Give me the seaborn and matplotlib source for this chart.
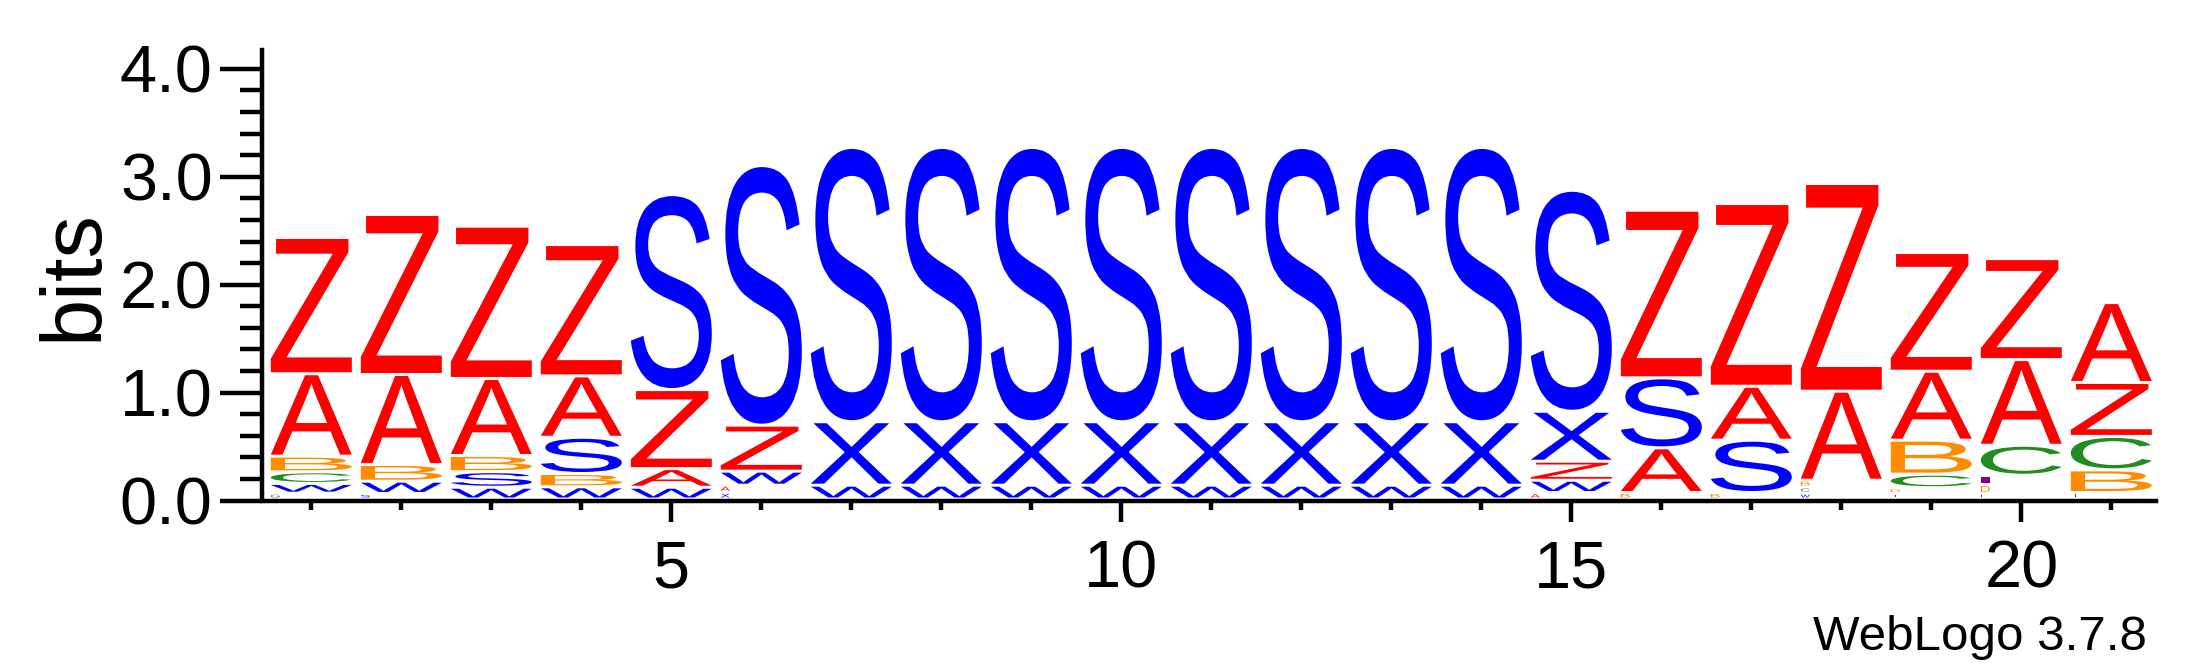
import matplotlib
matplotlib.use("Agg")
import matplotlib.pyplot as plt
from matplotlib.font_manager import FontProperties
from matplotlib.textpath import TextPath
from matplotlib.patches import PathPatch
from matplotlib.transforms import Affine2D
from matplotlib.ticker import MultipleLocator, FixedLocator, FormatStrFormatter
import pandas as pd
import seaborn as sns


# stack heights (bits) per letter, positions 1..21
positions = list(range(1, 22))
A = [0.764, 0.834, 0.714, 0.569, 0.173, 0.066, 0, 0, 0, 0, 0, 0, 0, 0, 0.060, 0.414, 0.500, 0.825, 0.639, 0.794, 0.740]
B = [0.145, 0.155, 0.150, 0.123, 0, 0, 0, 0, 0, 0, 0, 0, 0, 0, 0, 0.060, 0.060, 0.062, 0.315, 0, 0.210]
C = [0.108, 0, 0, 0, 0, 0, 0, 0, 0, 0, 0, 0, 0, 0, 0, 0, 0, 0.058, 0.126, 0.278, 0.310]
D = [0, 0, 0, 0, 0, 0, 0, 0, 0, 0, 0, 0, 0, 0, 0, 0, 0, 0, 0.053, 0.083, 0]
E = [0, 0, 0, 0, 0, 0, 0, 0, 0, 0, 0, 0, 0, 0, 0, 0, 0, 0, 0, 0.051, 0]
G = [0.054, 0, 0, 0, 0, 0, 0, 0, 0, 0, 0, 0, 0, 0, 0, 0, 0, 0, 0, 0, 0]
I = [0, 0, 0, 0, 0, 0, 0, 0, 0, 0, 0, 0, 0, 0, 0, 0, 0, 0, 0, 0.086, 0]
S = [0, 0.051, 0.144, 0.336, 1.807, 2.406, 2.542, 2.542, 2.542, 2.542, 2.542, 2.542, 2.542, 2.542, 2.048, 0.649, 0.485, 0, 0, 0, 0]
T = [0, 0, 0, 0, 0, 0, 0, 0, 0, 0, 0, 0, 0, 0, 0, 0, 0, 0, 0.051, 0, 0.060]
W = [0.090, 0.114, 0.109, 0.113, 0.109, 0.130, 0.128, 0.128, 0.128, 0.128, 0.128, 0.128, 0.128, 0.128, 0.114, 0, 0, 0.054, 0, 0, 0]
X = [0, 0, 0, 0, 0, 0.062, 0.588, 0.588, 0.588, 0.588, 0.588, 0.588, 0.588, 0.588, 0.463, 0, 0, 0, 0, 0, 0]
Z = [1.263, 1.483, 1.411, 1.217, 0.732, 0.426, 0, 0, 0, 0, 0, 0, 0, 0, 0.176, 1.553, 1.693, 1.925, 1.100, 0.936, 0.500]

x_major = [5, 10, 15, 20]
y_max = 4.175

colors = {
    "A": "#ff0000", "Z": "#ff0000", "E": "#ff0000",
    "B": "#ff8c00", "D": "#ff8c00",
    "C": "#228b22", "G": "#228b22",
    "S": "#0000ff", "W": "#0000ff", "X": "#0000ff",
    "I": "#800080", "T": "#800080",
}

GAP = 0.028      # white space between stacked letters
WIDTH = 0.9      # letter width in positions
TINY = 0.087     # below this the glyph is drawn narrow
TINY_W = 0.1

df = pd.DataFrame({"A": A, "B": B, "C": C, "D": D, "E": E, "G": G, "I": I,
                   "S": S, "T": T, "W": W, "X": X, "Z": Z}, index=positions)

sns.set_theme(style="ticks", rc={
    "axes.edgecolor": "black", "xtick.color": "black", "ytick.color": "black",
    "text.color": "black", "axes.labelcolor": "black",
})
plt.rcParams["font.family"] = ["Liberation Sans", "DejaVu Sans"]
font = FontProperties(family="Liberation Sans")


def draw_letter(ax, letter, x, y0, h):
    gh = h - GAP
    if gh <= 0:
        return
    tp = TextPath((0, 0), letter, size=1, prop=font)
    bb = tp.get_extents()
    w = TINY_W if h < TINY else WIDTH
    left = x - WIDTH / 2
    tr = (Affine2D().translate(-bb.x0, -bb.y0)
          .scale(w / bb.width, gh / bb.height)
          .translate(left, y0 + GAP))
    ax.add_patch(PathPatch(tr.transform_path(tp), facecolor=colors[letter],
                           edgecolor="none", lw=0))


fig = plt.figure(figsize=(22, 6.67), dpi=100)
ax = fig.add_axes([266.3 / 2200, 166.5 / 667, 1890 / 2200, 450.5 / 667])

for pos, row in df.iterrows():
    stack = row[row > 0].sort_values()
    y0 = 0.0
    for letter, h in stack.items():
        draw_letter(ax, letter, pos, y0, h)
        y0 += h

ax.set_xlim(0.5, 21.5)
ax.set_ylim(0, y_max)

sns.despine(ax=ax)
ax.spines["left"].set_position(("outward", 3))
for side in ["left", "bottom"]:
    ax.spines[side].set_linewidth(3.2)

ax.xaxis.set_major_locator(FixedLocator(x_major))
ax.xaxis.set_minor_locator(FixedLocator(positions))
ax.yaxis.set_major_locator(MultipleLocator(1.0))
ax.yaxis.set_minor_locator(MultipleLocator(0.2))
ax.yaxis.set_major_formatter(FormatStrFormatter("%.1f"))

ax.tick_params(axis="x", which="major", direction="out", length=15.3, width=3.2,
               pad=13, labelsize=48)
ax.tick_params(axis="x", which="minor", direction="out", length=6.8, width=3.2)
ax.tick_params(axis="y", which="major", direction="out", length=30.6, width=3.2,
               pad=5, labelsize=48)
ax.tick_params(axis="y", which="minor", direction="out", length=15.7, width=3.2)

ax.set_ylabel("bits", fontsize=61)
ax.yaxis.set_label_coords(-0.0805, 0.5)

fig.text(2147 / 2200, (667 - 650) / 667, "WebLogo 3.7.8", fontsize=35.5,
         ha="right", va="baseline")

fig.savefig("out.png", dpi=100)
